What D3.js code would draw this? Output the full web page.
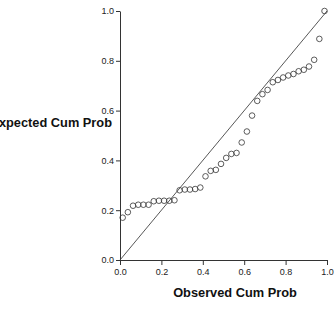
<!DOCTYPE html>
<html lang="en">
<head>
    <meta charset="UTF-8">
    <title>P-P Plot</title>
    <script src="https://d3js.org/d3.v7.min.js"></script>
    <style>
        body {
            margin: 0;
            padding: 0;
            background: #fff;
            font-family: 'Liberation Sans', Arial, sans-serif;
        }

        .axis path,
        .axis line {
            stroke: #333;
            stroke-width: 1;
        }

        .axis text {
            font-size: 9px;
            fill: #222;
        }

        .title {
            font-size: 12.8px;
            font-weight: bold;
            fill: #111;
        }
    </style>
</head>
<body>
    <svg id="chart"></svg>

    <script>
        // Observed vs expected cumulative probabilities
        const observed = [
            0.013, 0.038, 0.063, 0.088, 0.113, 0.138, 0.163, 0.188, 0.213, 0.238,
            0.263, 0.288, 0.313, 0.338, 0.363, 0.388, 0.413, 0.438, 0.463, 0.488,
            0.513, 0.538, 0.563, 0.588, 0.613, 0.638, 0.663, 0.688, 0.713, 0.738,
            0.763, 0.788, 0.813, 0.838, 0.863, 0.888, 0.913, 0.938, 0.963, 0.988
        ];
        const expected = [
            0.170, 0.192, 0.218, 0.222, 0.222, 0.222, 0.236, 0.238, 0.238, 0.238,
            0.240, 0.280, 0.283, 0.283, 0.285, 0.291, 0.336, 0.358, 0.362, 0.386,
            0.410, 0.426, 0.430, 0.472, 0.516, 0.580, 0.639, 0.666, 0.683, 0.714,
            0.723, 0.733, 0.741, 0.747, 0.758, 0.764, 0.777, 0.804, 0.888, 1.000
        ];
        const ticks = [0, 0.2, 0.4, 0.6, 0.8, 1.0];

        const W = 335, H = 317;
        const margin = { top: 11, right: 8, bottom: 57, left: 120 };
        const width = W - margin.left - margin.right;
        const height = H - margin.top - margin.bottom;

        const root = d3.select("#chart")
            .attr("width", W)
            .attr("height", H);

        const svg = root.append("g")
            .attr("transform", `translate(${margin.left},${margin.top})`);

        const x = d3.scaleLinear().domain([0, 1]).range([0, width]);
        const y = d3.scaleLinear().domain([0, 1]).range([height, 0]);

        // Axes
        svg.append("g")
            .attr("class", "axis")
            .attr("transform", `translate(0,${height})`)
            .call(d3.axisBottom(x).tickValues(ticks).tickFormat(d3.format(".1f"))
                .tickSize(5).tickSizeOuter(0).tickPadding(4));

        svg.append("g")
            .attr("class", "axis")
            .call(d3.axisLeft(y).tickValues(ticks).tickFormat(d3.format(".1f"))
                .tickSize(4).tickSizeOuter(0).tickPadding(2));

        // Reference diagonal
        svg.append("line")
            .attr("x1", x(0))
            .attr("y1", y(0))
            .attr("x2", x(1))
            .attr("y2", y(1))
            .attr("stroke", "#444")
            .attr("stroke-width", 0.9);

        // Points
        const points = observed.map((o, i) => ({ o, e: expected[i] }));
        svg.selectAll("circle.pt")
            .data(points)
            .enter()
            .append("circle")
            .attr("class", "pt")
            .attr("cx", d => x(d.o))
            .attr("cy", d => y(d.e))
            .attr("r", 2.8)
            .attr("fill", "none")
            .attr("stroke", "#333")
            .attr("stroke-width", 0.8);

        // Axis titles
        root.append("text")
            .attr("class", "title")
            .attr("x", 235)
            .attr("y", 297)
            .attr("text-anchor", "middle")
            .text("Observed Cum Prob");

        // left part runs off the edge, as in the original
        root.append("text")
            .attr("class", "title")
            .attr("x", 112)
            .attr("y", 127)
            .attr("text-anchor", "end")
            .text("Expected Cum Prob");
    </script>
</body>
</html>
